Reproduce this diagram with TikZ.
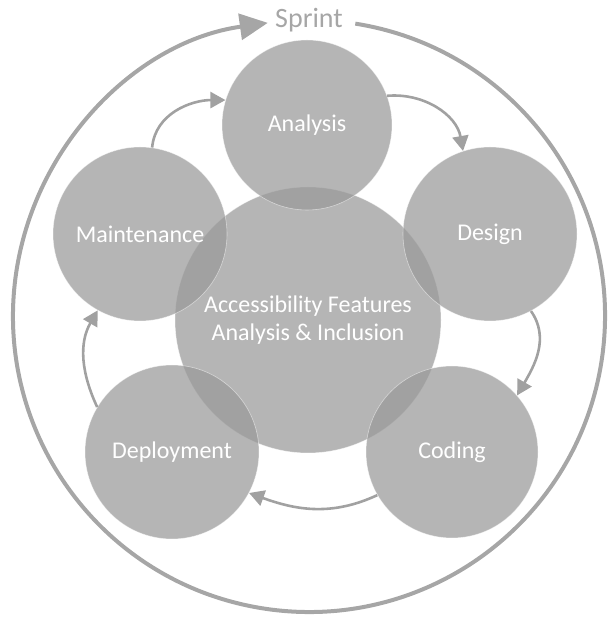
\documentclass[tikz,border=0pt]{standalone}
\usepackage{fontspec}
\setmainfont{Carlito}
\usetikzlibrary{arrows.meta}
\colorlet{phaseGray}{black!40}
\colorlet{arrowGray}{black!37}
\colorlet{ringGray}{black!35}

\begin{document}
\begin{tikzpicture}[x=1pt, y=1pt,
    every node/.style={font=\fontsize{24}{28.5}\selectfont, align=center, text=white},
    phase/.style={circle, fill=phaseGray, fill opacity=0.72, text opacity=1, draw=white, draw opacity=0.5, line width=0.6pt, inner sep=0pt, minimum size=174},
    flow/.style={draw=arrowGray, line width=2.6pt, -{Triangle[length=15pt,width=16pt]}}]
    \useasboundingbox (0,0) rectangle (612,618);
    % sprint loop round the whole cycle
    \draw[ringGray, line width=4pt, -{Triangle[length=28pt,width=26pt]}]
        (309,302) ++(81:296) arc[start angle=81, end angle=-262, radius=296];
    \node[text=ringGray, font=\fontsize{28}{30}\selectfont, anchor=base] (sprint) at (309,590) {Sprint};
    % phases
    \node[phase, minimum size=266] (core) at (308,298) {Accessibility Features\\Analysis \& Inclusion};
    \node[phase, minimum size=170] (analysis) at (307,493) {Analysis};
    \node[phase] (design) at (490,384) {Design};
    \node[phase, minimum size=172] (coding) at (452,166) {Coding};
    \node[phase] (deploy) at (172,166) {Deployment};
    \node[phase] (maint) at (140,384) {Maintenance};
    % flow between phases
    \draw[flow] (maint.82) to[out=85, in=180] (analysis.163);
    \draw[flow] (analysis.20) to[out=5, in=100] (design.108);
    \draw[flow] (design.-62) to[out=-55, in=60] (coding.41);
    \draw[flow] (coding.210) to[out=205, in=-20] (deploy.-28);
    \draw[flow] (deploy.149) to[out=115, in=240] (maint.241);
\end{tikzpicture}
\end{document}
